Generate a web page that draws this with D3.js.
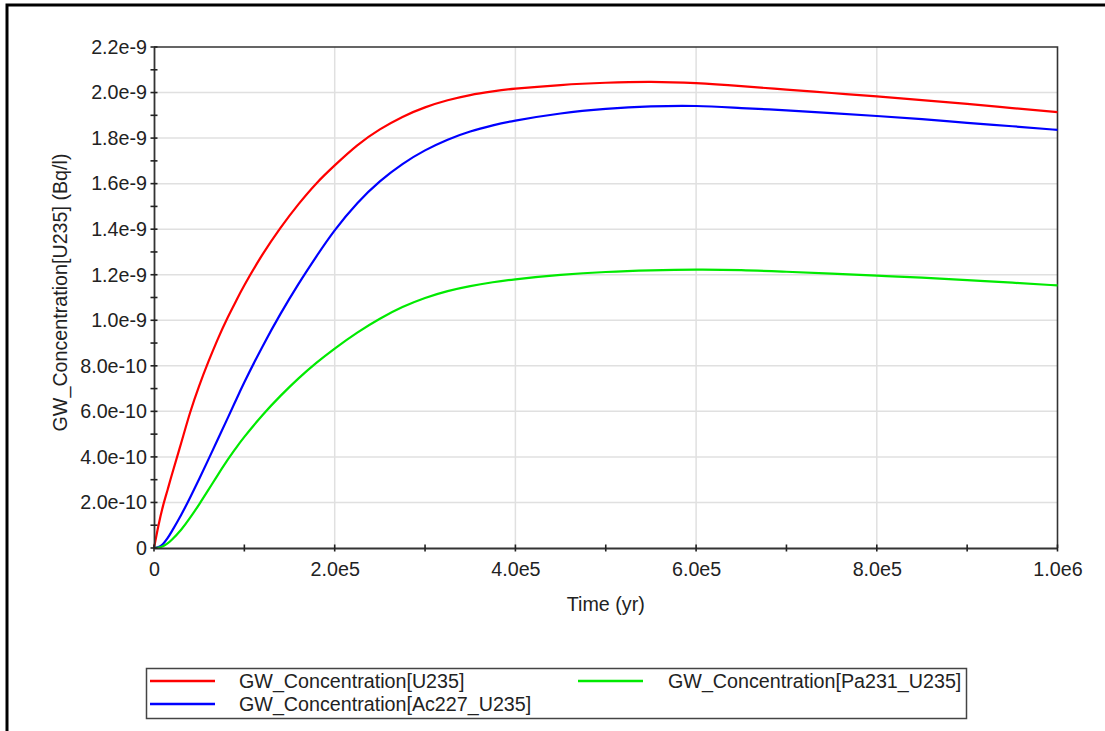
<!DOCTYPE html>
<html>
<head>
<meta charset="utf-8">
<script src="https://cdn.jsdelivr.net/npm/d3@7"></script>
<style>
  html, body { margin: 0; padding: 0; background: #fff; }
  svg { display: block; font-family: "Liberation Sans", Arial, sans-serif; }
</style>
</head>
<body>
<svg id="chart" width="1105" height="731"></svg>
<script>
// Simulation output times (yr)
const times = [0, 5e3, 10e3, 15e3, 20e3, 30e3, 40e3, 50e3, 60e3, 70e3, 80e3, 90e3, 100e3,
  120e3, 140e3, 160e3, 180e3, 200e3, 225e3, 250e3, 275e3, 300e3, 325e3, 350e3, 375e3, 400e3,
  450e3, 500e3, 550e3, 600e3, 650e3, 700e3, 750e3, 800e3, 850e3, 900e3, 950e3, 1000e3];

// Groundwater concentrations, in units of 1e-9 Bq/l
const u235 = [0, 0.10, 0.185, 0.255, 0.325, 0.46, 0.595, 0.712, 0.816, 0.912, 0.999, 1.078, 1.154,
  1.288, 1.406, 1.51, 1.602, 1.68, 1.768, 1.838, 1.893, 1.935, 1.966, 1.989, 2.005, 2.017,
  2.033, 2.043, 2.047, 2.041, 2.028, 2.013, 1.998, 1.983, 1.967, 1.95, 1.932, 1.914];

const ac227U235 = [0, 0.004, 0.018, 0.043, 0.075, 0.145, 0.222, 0.303, 0.387, 0.472, 0.557, 0.643, 0.728,
  0.884, 1.028, 1.16, 1.282, 1.395, 1.514, 1.61, 1.686, 1.746, 1.793, 1.829, 1.856, 1.877,
  1.908, 1.928, 1.939, 1.941, 1.932, 1.922, 1.91, 1.897, 1.883, 1.867, 1.852, 1.836];

const pa231U235 = [0, 0.002, 0.008, 0.02, 0.037, 0.08, 0.133, 0.192, 0.254, 0.317, 0.378, 0.435, 0.488,
  0.583, 0.668, 0.745, 0.814, 0.876, 0.946, 1.007, 1.058, 1.098, 1.128, 1.15, 1.167, 1.18,
  1.199, 1.212, 1.219, 1.222, 1.22, 1.213, 1.205, 1.196, 1.187, 1.176, 1.165, 1.153];

const seriesNames = ["GW_Concentration[U235]", "GW_Concentration[Ac227_U235]", "GW_Concentration[Pa231_U235]"];
const seriesColors = ["#ff0000", "#0000ff", "#00ea00"];
const unit = 1e-9;

// Axis ticks and their labels
const xTicks = [0, 2e5, 4e5, 6e5, 8e5, 1e6];
const xTickLabels = ["0", "2.0e5", "4.0e5", "6.0e5", "8.0e5", "1.0e6"];
const xMinorTicks = [1e5, 3e5, 5e5, 7e5, 9e5];
const yTicks = [0, 2e-10, 4e-10, 6e-10, 8e-10, 1e-9, 1.2e-9, 1.4e-9, 1.6e-9, 1.8e-9, 2e-9, 2.2e-9];
const yTickLabels = ["0", "2.0e-10", "4.0e-10", "6.0e-10", "8.0e-10", "1.0e-9", "1.2e-9", "1.4e-9",
  "1.6e-9", "1.8e-9", "2.0e-9", "2.2e-9"];
const yMinorTicks = [1e-10, 3e-10, 5e-10, 7e-10, 9e-10, 1.1e-9, 1.3e-9, 1.5e-9, 1.7e-9, 1.9e-9, 2.1e-9];

const xTitle = "Time (yr)";
const yTitle = "GW_Concentration[U235] (Bq/l)";

const svg = d3.select("#chart");
const plot = { left: 154, right: 1057.5, top: 47, bottom: 548 };

const x = d3.scaleLinear().domain([0, 1e6]).range([plot.left, plot.right]);
const y = d3.scaleLinear().domain([0, 2.2e-9]).range([plot.bottom, plot.top]);

const fontSize = 19.7;

// outer frame (runs off the right and bottom of the page)
svg.append("rect")
  .attr("x", 7).attr("y", 5).attr("width", 1300).attr("height", 900)
  .attr("fill", "none").attr("stroke", "#000").attr("stroke-width", 3);

// grid
const grid = svg.append("g").attr("stroke", "#e0e0e0").attr("stroke-width", 1.5);
grid.selectAll("line.gx").data(xTicks.slice(1, -1)).join("line")
  .attr("x1", d => x(d)).attr("x2", d => x(d))
  .attr("y1", plot.top).attr("y2", plot.bottom);
grid.selectAll("line.gy").data(yTicks.slice(1, -1)).join("line")
  .attr("y1", d => y(d)).attr("y2", d => y(d))
  .attr("x1", plot.left).attr("x2", plot.right);

// top and right frame of the plotting area
svg.append("path")
  .attr("d", `M${plot.left},${plot.top}H${plot.right}V${plot.bottom}`)
  .attr("fill", "none").attr("stroke", "#333").attr("stroke-width", 1.6);

// series lines
const line = d3.line()
  .x((d, i) => x(times[i]))
  .y(d => y(d * unit))
  .curve(d3.curveNatural);

const seriesData = [u235, ac227U235, pa231U235];
svg.append("g")
  .selectAll("path").data(seriesData).join("path")
  .attr("d", d => line(d))
  .attr("fill", "none")
  .attr("stroke", (d, i) => seriesColors[i])
  .attr("stroke-width", 2.2)
  .attr("stroke-linejoin", "round");

// axes
const xAxis = d3.axisBottom(x).tickValues(xTicks).tickSize(0)
  .tickFormat((d, i) => xTickLabels[i]).tickPadding(14);
const gx = svg.append("g").attr("transform", `translate(0,${plot.bottom})`).call(xAxis);
gx.select(".domain").attr("stroke", "#333").attr("stroke-width", 1.8);
gx.selectAll("text").attr("font-size", fontSize).attr("fill", "#222")
  .attr("font-family", "Liberation Sans, Arial, sans-serif");

const yAxis = d3.axisLeft(y).tickValues(yTicks).tickSize(0)
  .tickFormat((d, i) => yTickLabels[i]).tickPadding(7);
const gy = svg.append("g").attr("transform", `translate(${plot.left},0)`).call(yAxis);
gy.select(".domain").attr("stroke", "#333").attr("stroke-width", 1.8);
gy.selectAll("text").attr("font-size", fontSize).attr("fill", "#222")
  .attr("font-family", "Liberation Sans, Arial, sans-serif");

// tick marks crossing the axis lines
const tickLen = 3.5;
const ticks = svg.append("g").attr("stroke", "#222").attr("stroke-width", 1.6);
ticks.selectAll("line.tx").data(xTicks.concat(xMinorTicks)).join("line")
  .attr("x1", d => x(d)).attr("x2", d => x(d))
  .attr("y1", plot.bottom - tickLen).attr("y2", plot.bottom + tickLen);
ticks.selectAll("line.ty").data(yTicks.concat(yMinorTicks)).join("line")
  .attr("y1", d => y(d)).attr("y2", d => y(d))
  .attr("x1", plot.left - tickLen).attr("x2", plot.left + tickLen);

// axis titles
svg.append("text")
  .attr("x", (plot.left + plot.right) / 2).attr("y", 604)
  .attr("text-anchor", "middle").attr("dominant-baseline", "central")
  .attr("font-size", fontSize).attr("fill", "#222").text(xTitle);

svg.append("text")
  .attr("transform", `translate(60,${(plot.top + plot.bottom) / 2 - 5}) rotate(-90)`)
  .attr("text-anchor", "middle").attr("dominant-baseline", "central")
  .attr("font-size", fontSize).attr("fill", "#222").text(yTitle);

// legend
const legend = svg.append("g");
legend.append("rect")
  .attr("x", 146.5).attr("y", 668.5).attr("width", 820).attr("height", 50)
  .attr("fill", "#fff").attr("stroke", "#444").attr("stroke-width", 1.5);

const legendPos = [
  { lx: 150, ty: 681, tx: 239 },
  { lx: 150, ty: 704, tx: 239 },
  { lx: 578, ty: 681, tx: 668 }
];
seriesNames.forEach((name, i) => {
  const p = legendPos[i];
  legend.append("line")
    .attr("x1", p.lx).attr("x2", p.lx + 65)
    .attr("y1", p.ty).attr("y2", p.ty)
    .attr("stroke", seriesColors[i]).attr("stroke-width", 2.5);
  legend.append("text")
    .attr("x", p.tx).attr("y", p.ty)
    .attr("dominant-baseline", "central")
    .attr("font-size", fontSize).attr("fill", "#222").text(name);
});
</script>
</body>
</html>
